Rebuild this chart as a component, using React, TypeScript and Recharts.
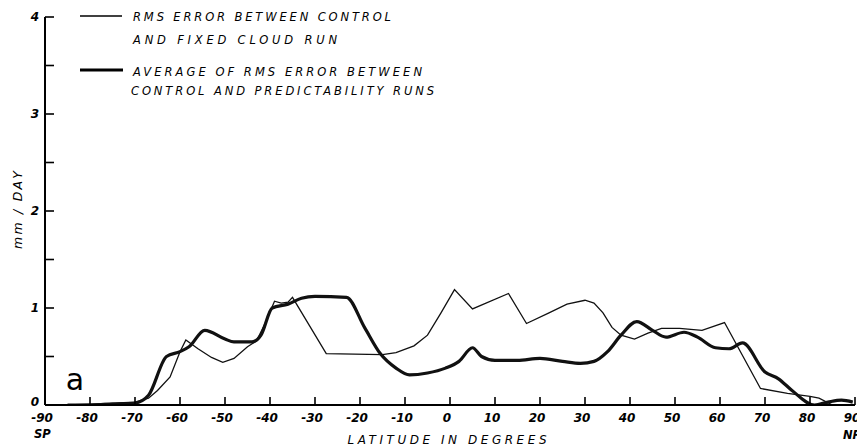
import React from "react";
import { LineChart, Line, XAxis, YAxis, Customized } from "recharts";

const thinLat = [-85, -80, -75, -70, -67, -65, -62.2, -60, -58.7, -56, -53, -50.5, -48, -45, -43, -41, -39, -37.5, -36, -35, -27.5, -15, -12, -8, -5, -2, 1, 5, 13, 17, 22, 26, 30, 32, 34, 36, 38, 41, 44, 47, 51, 56, 61, 69, 75, 80, 82, 85];
const thinVal = [0, 0.01, 0.02, 0.03, 0.07, 0.15, 0.29, 0.55, 0.67, 0.58, 0.49, 0.44, 0.48, 0.6, 0.66, 0.85, 1.07, 1.05, 1.06, 1.11, 0.53, 0.52, 0.54, 0.61, 0.72, 0.95, 1.19, 0.99, 1.15, 0.84, 0.95, 1.04, 1.08, 1.05, 0.95, 0.8, 0.72, 0.68, 0.74, 0.79, 0.79, 0.77, 0.85, 0.17, 0.12, 0.09, 0.07, 0];

const thickLat = [-85, -80, -75, -70, -67, -63, -60, -58, -54.5, -50, -48, -44, -42, -39.5, -36, -33, -30, -23, -19, -15.5, -12, -9, -5, -1, 2, 5, 7, 10, 15, 20, 25, 29, 32, 35, 38, 41.5, 45, 48, 52, 55, 59, 62, 65, 70, 73, 76, 81, 84, 87, 89.5];
const thickVal = [0, 0, 0.01, 0.02, 0.1, 0.5, 0.55, 0.6, 0.77, 0.68, 0.65, 0.65, 0.72, 1.0, 1.04, 1.1, 1.12, 1.11, 0.8, 0.53, 0.38, 0.31, 0.33, 0.38, 0.45, 0.59, 0.5, 0.46, 0.46, 0.48, 0.45, 0.43, 0.45, 0.55, 0.72, 0.86, 0.77, 0.7, 0.75, 0.7, 0.59, 0.58, 0.64, 0.34, 0.27, 0.15, 0, 0.03, 0.05, 0.03];

const xTicks = [-90, -80, -70, -60, -50, -40, -30, -20, -10, 0, 10, 20, 30, 40, 50, 60, 70, 80, 90];
const yTicks = [0, 0.5, 1, 1.5, 2, 2.5, 3, 3.5, 4];
const yLabels = ["0", "1", "2", "3", "4"];

const legend1 = ["RMS ERROR BETWEEN CONTROL", "AND FIXED CLOUD RUN"];
const legend2 = ["AVERAGE OF RMS ERROR BETWEEN", "CONTROL AND PREDICTABILITY RUNS"];
const xTitle = "LATITUDE IN DEGREES";
const yTitle = "mm / DAY";

const thinData = thinLat.map((lat, i) => ({ lat, v: thinVal[i] }));
const thickData = thickLat.map((lat, i) => ({ lat, v: thickVal[i] }));

const FONT = "'DejaVu Sans', 'Liberation Sans', sans-serif";

const XTick = (props: any) => {
  const { x, y, payload } = props;
  const v = payload.value;
  return (
    <g>
      <line x1={x} y1={y} x2={x} y2={y - 8} stroke="#000" strokeWidth={1.6} />
      <text x={x - 3} y={y + 17} textAnchor="middle" fontFamily={FONT} fontStyle="italic" fontWeight="bold" fontSize={12} fill="#000">
        {String(v)}
      </text>
    </g>
  );
};

const YTick = (props: any) => {
  const { x, y, payload } = props;
  const v = payload.value;
  const isInt = Number.isInteger(v);
  return (
    <g>
      <line x1={x} y1={y} x2={x + 9} y2={y} stroke="#000" strokeWidth={1.6} />
      {isInt && (
        <text x={x - 6} y={v === 0 ? y + 1 : y + 4} textAnchor="end" fontFamily={FONT} fontStyle="italic" fontWeight="bold" fontSize={12} fill="#000">
          {yLabels[v]}
        </text>
      )}
    </g>
  );
};

const Decor = () => {
  const tStyle: any = { fontFamily: FONT, fontStyle: "italic", fontSize: 11.5, fill: "#000" };
  return (
    <g>
      <line x1={72} y1={8} x2={114} y2={8} stroke="#000" strokeWidth={1.3} />
      <text x={125} y={13} textLength={258} lengthAdjust="spacing" {...tStyle}>{legend1[0]}</text>
      <text x={125} y={36} textLength={204} lengthAdjust="spacing" {...tStyle}>{legend1[1]}</text>
      <line x1={72} y1={62} x2={115} y2={62} stroke="#000" strokeWidth={3} />
      <text x={125} y={68} textLength={289} lengthAdjust="spacing" {...tStyle}>{legend2[0]}</text>
      <text x={123} y={87} textLength={303} lengthAdjust="spacing" {...tStyle}>{legend2[1]}</text>
      <text x={439} y={436} textAnchor="middle" textLength={199} lengthAdjust="spacing" {...tStyle} fontSize={12}>{xTitle}</text>
      <text x={26} y={430} textAnchor="start" fontFamily={FONT} fontStyle="italic" fontWeight="bold" fontSize={11.5} fill="#000">SP</text>
      <text x={835} y={431} textAnchor="start" fontFamily={FONT} fontStyle="italic" fontWeight="bold" fontSize={11.5} fill="#000">NP</text>
      <text x={0} y={0} transform="translate(14,202) rotate(-90)" textAnchor="middle" textLength={78} lengthAdjust="spacing" {...tStyle} fontSize={12.5}>{yTitle}</text>
      <text x={67} y={382} textAnchor="middle" fontFamily="'DejaVu Sans', sans-serif" fontSize={30} fill="#000">a</text>
    </g>
  );
};

export default function App() {
  return (
    <LineChart width={857} height={438} margin={{ top: 9, right: 10, bottom: 0, left: 0 }}>
      <XAxis
        dataKey="lat"
        type="number"
        domain={[-90, 90]}
        ticks={xTicks}
        interval={0}
        height={41}
        tickSize={0}
        tickMargin={0}
        tick={<XTick />}
        tickLine={false}
        axisLine={{ stroke: "#000", strokeWidth: 2 }}
        allowDataOverflow
      />
      <YAxis
        type="number"
        domain={[0, 4]}
        ticks={yTicks}
        interval={0}
        width={37}
        tickSize={0}
        tickMargin={0}
        tick={<YTick />}
        tickLine={false}
        axisLine={{ stroke: "#000", strokeWidth: 2 }}
        allowDataOverflow
      />
      <Line data={thinData} dataKey="v" type="linear" stroke="#111" strokeWidth={1.3} dot={false} isAnimationActive={false} />
      <Line data={thickData} dataKey="v" type="monotone" stroke="#111" strokeWidth={3.2} dot={false} isAnimationActive={false} />
      <Customized component={Decor} />
    </LineChart>
  );
}
